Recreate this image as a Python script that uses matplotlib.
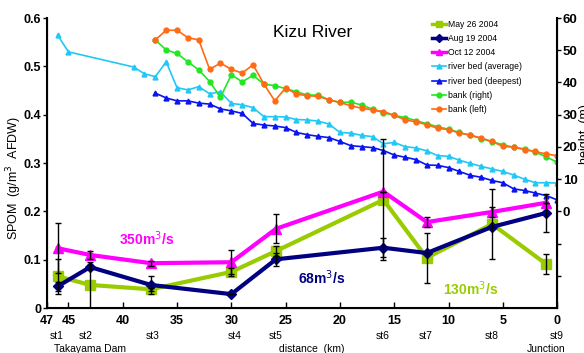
import numpy as np
import matplotlib
matplotlib.use('Agg')
import matplotlib.pyplot as plt
from matplotlib.lines import Line2D

plt.rcParams['font.family'] = ['Liberation Sans', 'DejaVu Sans']

# sampling stations (distance from the junction, km)
station_km = [46.0, 43.0, 37.4, 30.0, 25.9, 16.0, 12.0, 6.0, 1.0]
station_names = ['st1', 'st2', 'st3', 'st4', 'st5', 'st6', 'st7', 'st8', 'st9']
label_km = [46.1, 43.4, 37.2, 29.7, 25.9, 16.1, 12.1, 6.0, 0.0]

# SPOM (g/m3 AFDW) and standard deviations
spom_may = [0.066, 0.048, 0.039, 0.075, 0.118, 0.224, 0.104, 0.174, 0.091]
err_may = [0.036, 0.048, 0.003, 0.008, 0.010, 0.125, 0.052, 0.072, 0.020]
spom_aug = [0.045, 0.085, 0.048, 0.029, 0.101, 0.125, 0.114, 0.168, 0.197]
err_aug = [0.010, 0.005, 0.018, 0.000, 0.014, 0.020, 0.000, 0.000, 0.040]
spom_oct = [0.124, 0.110, 0.093, 0.095, 0.164, 0.241, 0.178, 0.199, 0.218]
err_oct = [0.052, 0.008, 0.005, 0.025, 0.030, 0.000, 0.011, 0.010, 0.000]

# river profile (m)
avg_km = [46, 45] + list(range(39, -1, -1))
bed_avg = [54.7, 49.5, 44.8, 42.7, 41.8, 46.4, 38.4, 37.7, 38.7, 36.5, 37.1,
           33.5, 33.1, 32.2, 29.4, 29.4, 29.3, 28.5, 28.4, 28.0, 27.1, 24.5,
           24.3, 23.6, 23.2, 21.0, 21.4, 20.1, 19.7, 18.8, 17.3, 17.1, 15.9,
           14.9, 14.0, 13.2, 12.4, 11.3, 10.0, 8.9, 8.9, 8.8]
prof_km = list(range(37, -1, -1))
bed_deep = [36.7, 35.2, 34.3, 34.3, 33.6, 33.3, 31.8, 31.2, 30.4, 27.3, 26.8,
            26.5, 26.0, 24.5, 23.8, 23.3, 22.9, 21.7, 20.4, 20.1, 19.8, 18.9,
            17.5, 16.8, 16.1, 14.4, 14.3, 13.6, 12.4, 11.2, 10.6, 9.6, 8.9,
            7.0, 6.5, 5.7, 4.9, 3.6]
bank_right = [53.2, 50.1, 49.0, 46.4, 43.9, 40.3, 35.4, 42.4, 40.2, 42.2, 39.5,
              39.0, 38.1, 37.1, 36.1, 36.1, 34.6, 33.8, 33.9, 33.0, 31.7, 30.6,
              29.8, 29.1, 28.2, 27.2, 26.3, 25.5, 24.5, 23.6, 22.6, 21.6, 20.7,
              19.9, 19.4, 18.4, 16.9, 15.3]
bank_left = [53.2, 56.2, 56.2, 53.9, 53.2, 44.1, 46.0, 44.1, 42.9, 45.5, 39.5,
             34.3, 38.3, 36.4, 35.9, 35.7, 34.6, 33.8, 32.8, 32.0, 31.5, 31.0,
             29.8, 28.4, 27.8, 26.9, 25.8, 25.4, 24.3, 23.7, 22.8, 21.7, 20.2,
             19.9, 19.2, 18.6, 17.8, 17.3]

xticks = [47, 45, 40, 35, 30, 25, 20, 15, 10, 5, 0]

c_may = '#99cc00'
c_aug = '#000080'
c_oct = '#ff00ff'
c_avg = '#22c8f5'
c_deep = '#0a14f0'
c_right = '#22e622'
c_left = '#ff6a14'

fig = plt.figure(figsize=(5.84, 3.53), dpi=100)
ax = fig.add_axes([0.080, 0.127, 0.874, 0.822])
ax2 = ax.twinx()

# SPOM series
for vals, errs, col, mk, ms in [(spom_may, err_may, c_may, 's', 6.5),
                                (spom_aug, err_aug, c_aug, 'D', 5),
                                (spom_oct, err_oct, c_oct, '^', 6.5)]:
    ax.plot(station_km, vals, color=col, lw=3.0, marker=mk, ms=ms, zorder=3)
    ax.errorbar(station_km, vals, yerr=errs, fmt='none', ecolor='black',
                elinewidth=1, capsize=2, capthick=1, zorder=4)

ax.set_xlim(47, 0)
ax.set_ylim(0, 0.6)
ax.set_xticks(xticks)
ax.set_xticklabels([str(t) for t in xticks], fontsize=9, fontweight='bold')
ax.set_yticks([0, 0.1, 0.2, 0.3, 0.4, 0.5, 0.6])
ax.set_yticklabels(['0', '0.1', '0.2', '0.3', '0.4', '0.5', '0.6'],
                   fontsize=9, fontweight='bold')
ax.tick_params(axis='x', direction='in', length=4, width=1, pad=5)
ax.tick_params(axis='y', direction='out', length=3, width=1, pad=1)
ax.spines['top'].set_visible(False)
for s in ['left', 'bottom']:
    ax.spines[s].set_linewidth(1.5)
ax.set_ylabel('SPOM  (g/m$^3$  AFDW)', fontsize=9)
ax.yaxis.set_label_coords(-0.045, 0.45)

# river profile on the right axis
ax2.plot(avg_km, bed_avg, color=c_avg, lw=1.2, marker='^', ms=3.5)
ax2.plot(prof_km, bed_deep, color=c_deep, lw=1.2, marker='^', ms=3.5)
ax2.plot(prof_km, bank_right, color=c_right, lw=1.2, marker='o', ms=3.5)
ax2.plot(prof_km, bank_left, color=c_left, lw=1.2, marker='o', ms=3.5)
ax2.set_ylim(-30, 60)
ax2.set_yticks([-20, -10, 0, 10, 20, 30, 40, 50, 60])
ax2.set_yticklabels(['', '', '0', '10', '20', '30', '40', '50', '60'],
                    fontsize=9.5, fontweight='bold')
ax2.tick_params(axis='y', direction='out', length=3, width=1, pad=1)
ax2.spines['top'].set_visible(False)
ax2.spines['right'].set_linewidth(1.5)
ax2.set_ylabel('height  (m)', fontsize=9)
ax2.yaxis.set_label_coords(1.043, 0.6)

ax.set_zorder(ax2.get_zorder() + 1)
ax.patch.set_visible(False)

# station names and axis notes under the ticks
tr = ax.get_xaxis_transform()
for km, name in zip(label_km, station_names):
    ax.text(km, -0.095, name, transform=tr, ha='center', va='center',
            fontsize=7.5)
ax.text(43.0, -0.142, 'Takayama Dam', transform=tr, ha='center',
        va='center', fontsize=7.5)
ax.text(22.6, -0.142, 'distance  (km)', transform=tr, ha='center',
        va='center', fontsize=7.5)
ax.text(1.0, -0.142, 'Junction', transform=tr, ha='center', va='center',
        fontsize=7.5)

ax.text(0.52, 0.95, 'Kizu River', transform=ax.transAxes, ha='center',
        va='center', fontsize=12.5)
ax.text(37.8, 0.143, '350m$^3$/s', color=c_oct, fontsize=10,
        fontweight='bold', ha='center', va='center')
ax.text(21.7, 0.062, '68m$^3$/s', color=c_aug, fontsize=10,
        fontweight='bold', ha='center', va='center')
ax.text(8.0, 0.041, '130m$^3$/s', color=c_may, fontsize=10,
        fontweight='bold', ha='center', va='center')

handles = [
    Line2D([], [], color=c_may, lw=2.5, marker='s', ms=5),
    Line2D([], [], color=c_aug, lw=2.5, marker='D', ms=4),
    Line2D([], [], color=c_oct, lw=2.5, marker='^', ms=5),
    Line2D([], [], color=c_avg, lw=1.2, marker='^', ms=3.5),
    Line2D([], [], color=c_deep, lw=1.2, marker='^', ms=3.5),
    Line2D([], [], color=c_right, lw=1.2, marker='o', ms=3.5),
    Line2D([], [], color=c_left, lw=1.2, marker='o', ms=3.5),
]
labels = ['May 26 2004', 'Aug 19 2004', 'Oct 12 2004',
          'river bed (average)', 'river bed (deepest)',
          'bank (right)', 'bank (left)']
ax.legend(handles, labels, loc='upper left', bbox_to_anchor=(0.748, 1.005),
          frameon=False, fontsize=6.2, handlelength=1.6, handletextpad=0.3,
          labelspacing=0.6, borderaxespad=0)

fig.savefig('out.png', dpi=100)
